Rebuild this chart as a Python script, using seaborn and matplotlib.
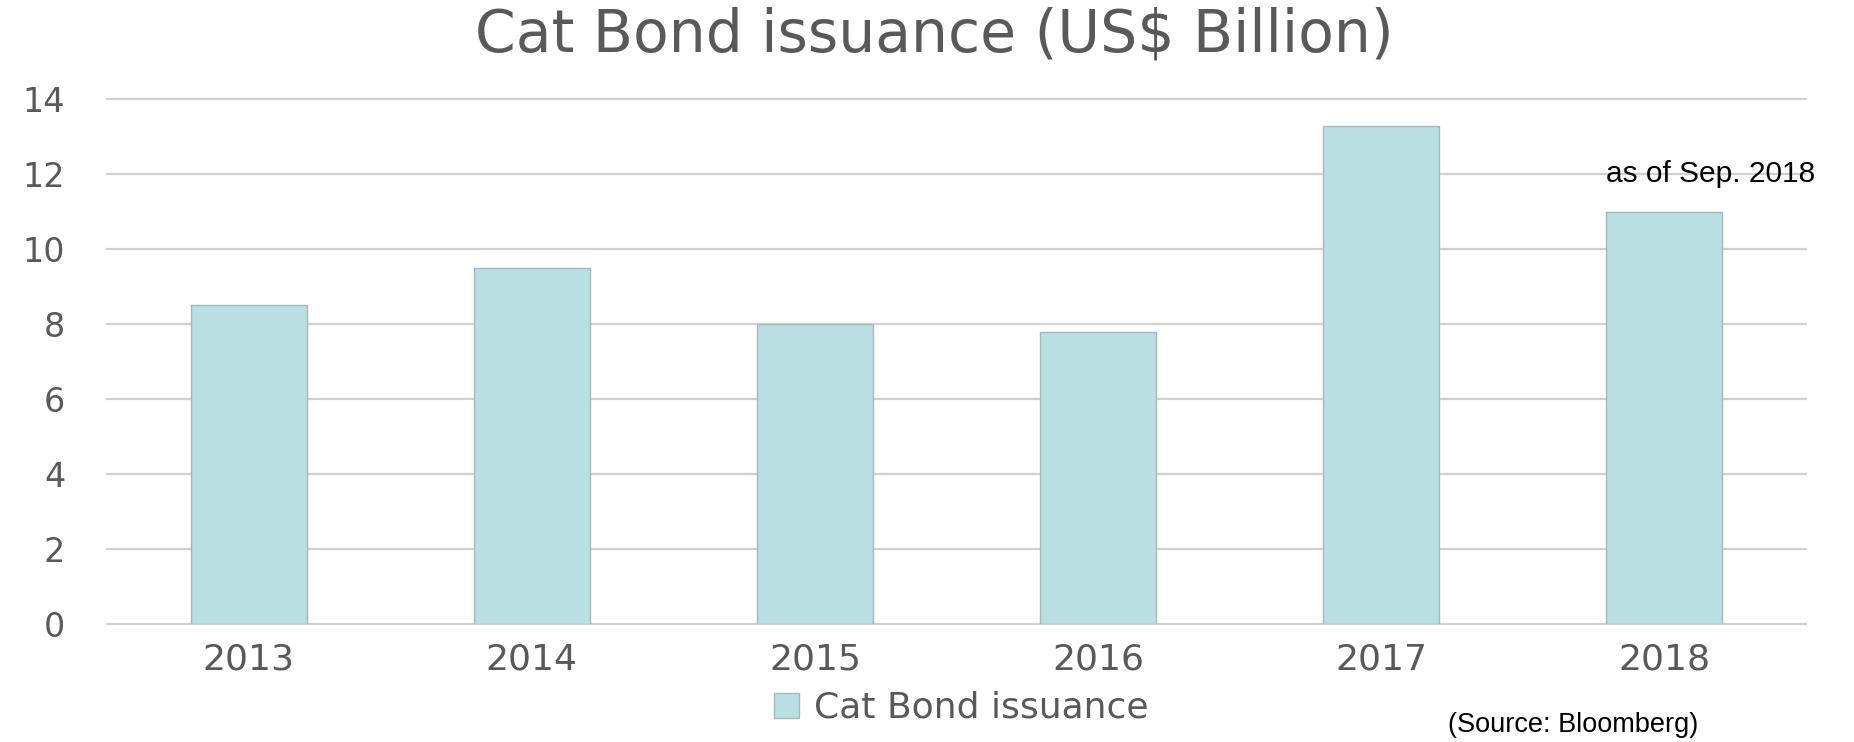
import matplotlib
matplotlib.use("Agg")
import matplotlib.pyplot as plt
import seaborn as sns
import pandas as pd

years = ["2013", "2014", "2015", "2016", "2017", "2018"]
issuance = [8.5, 9.5, 8.0, 7.8, 13.3, 11.0]
yticks = [0, 2, 4, 6, 8, 10, 12, 14]
title = "Cat Bond issuance (US$ Billion)"
series_name = "Cat Bond issuance"
note = "as of Sep. 2018"
source = "(Source: Bloomberg)"

sns.set_theme(style="white")
plt.rcParams["font.family"] = ["DejaVu Sans"]

W, H = 1854, 742
fig = plt.figure(figsize=(W / 100, H / 100), dpi=100)
ax = fig.add_axes([107 / W, 1 - 624 / H, (1806 - 107) / W, (624 - 99.3) / H])

df = pd.DataFrame({"year": years, "value": issuance})
sns.barplot(data=df, x="year", y="value", color="#B9DFE2", width=0.41,
            edgecolor="#A6B8BA", linewidth=1.0, saturation=1, ax=ax,
            label=series_name, zorder=3)

ax.set_ylim(0, 14)
ax.set_yticks(yticks)
ax.set_xlim(-0.5, 5.5)
ax.yaxis.grid(True, color="#D0D0D0", linewidth=1.6, zorder=0)
ax.set_axisbelow(True)
for g in ax.get_ygridlines():
    g.set_clip_on(False)
for s in ax.spines.values():
    s.set_visible(False)
ax.set_xlabel("")
ax.set_ylabel("")
ax.tick_params(axis="y", length=0, pad=30, labelsize=24, labelcolor="#595959")
ax.tick_params(axis="x", length=0, pad=13, labelsize=26, labelcolor="#595959")

fig.text(934 / W, 1 - 35 / H, title, ha="center", va="center",
         fontsize=42, color="#595959")

ax.text(5.5 + 9 / 283, 12.0, note, ha="right", va="center",
        fontsize=21.5, color="black", family=["Liberation Sans"])

fig.text(1573 / W, 1 - 725 / H, source, ha="center", va="center",
         fontsize=19.5, color="black", family=["Liberation Sans"])

leg = ax.legend(loc="center", bbox_to_anchor=(961 / W, 1 - 708 / H),
                bbox_transform=fig.transFigure, frameon=False,
                fontsize=26, handlelength=0.7, handleheight=0.7,
                handletextpad=0.4, labelcolor="#595959")

fig.savefig("out.png", dpi=100)
